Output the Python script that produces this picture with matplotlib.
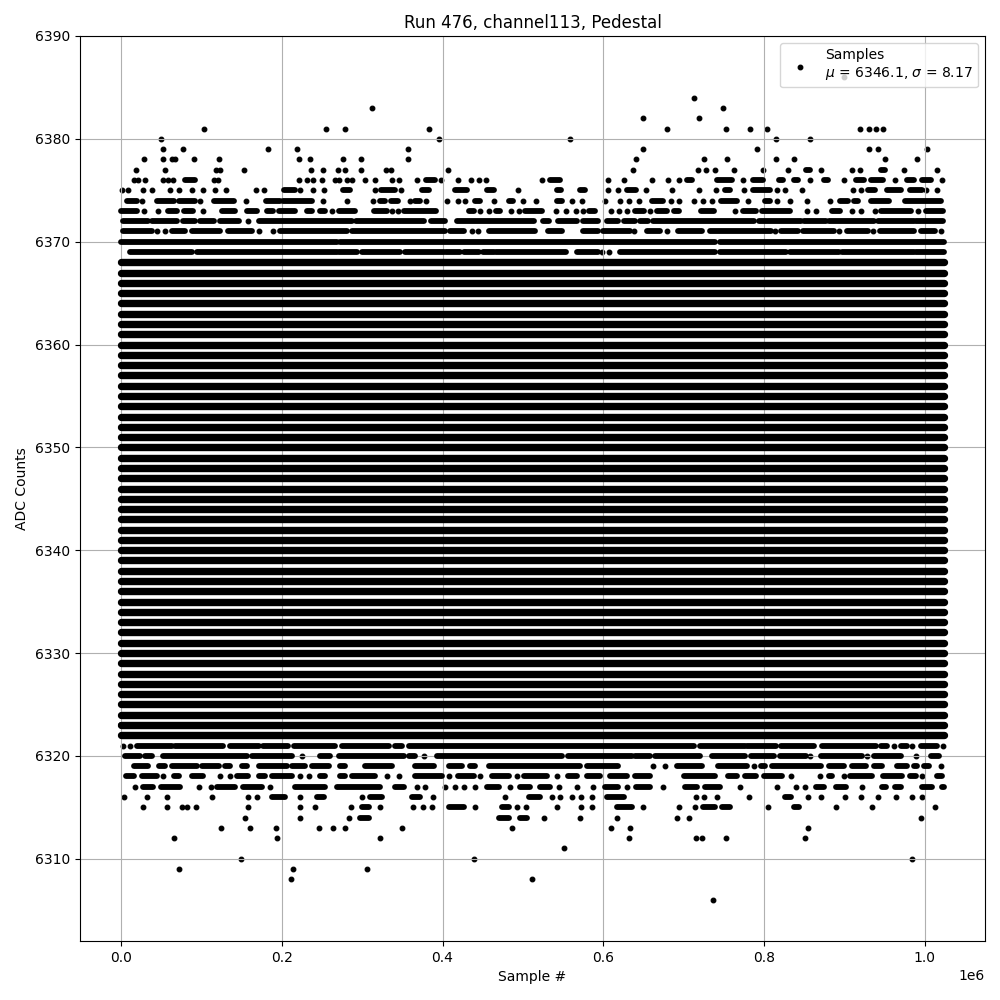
import matplotlib
matplotlib.use("Agg")
import matplotlib.pyplot as plt

# ---------------- data (x in thousands of samples, y in ADC counts) ----------------
title = "Run 476, channel113, Pedestal"
x_label = "Sample #"
y_label = "ADC Counts"
legend_label = "Samples\n$\\mu$ = 6346.1, $\\sigma$ = 8.17"
n_samples_k = 1024.0          # 1,024,000 samples
core_low, core_high = 6322, 6368   # every ADC code in this band is hit all along the run

# sparse rows: a number is one sample, a tuple is a run of neighbouring samples
lvl_6386 = [899.5]
lvl_6384 = [713.6]
lvl_6383 = [311.7, 749.7]
lvl_6382 = [650.1, 719.8]
lvl_6381 = [103.7, 254.4, 278.1, 382.7, 680, 753.4, 782.5, 803.7, 919.5, 930.7, 939.4, 948.1]
lvl_6380 = [49.8, 396, 559.2, 814.9, 857.2]
lvl_6379 = [52.7, 76.4, 183.4, 218.3, 356.5, 650.1, 791.2, 930.7, 941.9, 1002.9]
lvl_6378 = [29, 52.7, 63, 67.2, 91.3, 122.4, 220.8, 234.5, 275.6, 298, 356.5, 641.4, 726,
            754.7, 814.9, 837.3, 950.6, 990.4]
lvl_6377 = [19.1, 54, 117.9, 123.3, 152.3, 235.7, 250.7, 269.4, 278.1, 298, 329.1, 336.2,
            406.3, 637.7, 718.6, 727.7, 739.7, 762.6, 798.7, 830.2, (852.7, 857.2), 870.9,
            909.5, 919.5, (945.6, 950.6), 974.3, 1015.3]
lvl_6376 = [16.2, 21.2, 30.3, 52.7, 58.9, 64.3, (79.7, 92.1), 115, 120, 220.8, 231.2, 239.4,
            249.8, 266.5, 270.6, 281, 287.2, 303, 315.5, 337.4, 345.3, 368.2, (378.9, 391),
            397.6, 418.8, 435.8, 444.9, 454, 524.4, (533.9, 546.4), 606.5, 626.4, 661.3,
            681.2, 694.9, (704.9, 711.1), (742.2, 760.9), 773.4, (786.3, 798.7),
            (818.6, 823.6), (837.3, 842.3), 857.2, (874.6, 879.6), 899.5, (914.5, 924.5),
            (933.2, 948.1), 963, (978, 986.7), (996.7, 1007.9), 1021.6]
lvl_6375 = [0.8, 9.1, 26.6, 37.8, 61.4, 71.4, 88.8, 102.5, 117.4, 131.1, 168, 177.2,
            (203, 216.6), 222, 238.2, 252, (275.6, 284.3), 315.5, (323.7, 341.2), 347.8,
            (374.4, 382.7), (415.9, 430.4), (455.3, 463.6), 493.5, (542.2, 547.2),
            (571.3, 577.5), 606.5, 619, (629.4, 641), 653.8, 686.2, 719.8, 741, (751, 757.2),
            775.8, (786.3, 807.4), 816.1, 826.1, 847.3, 910.8, 920.7, (929.4, 938.1),
            (953.1, 970.5), (981.7, 996.7), 1001.6, 1015.3]
lvl_6374 = [(7, 20.3), 26.1, (44.4, 65.2), (71.4, 92.1), 98.4, (115, 140.7), 155.6,
            (180.5, 198), (202, 237.4), 251, 280.6, 313, (321.7, 328.7), (336.2, 344.1), 359,
            (366, 372.3), 378.9, 405, 418.8, 427.5, (440.8, 447), 463.6, (482.3, 487.3),
            499.7, 516, (542.2, 548.4), 560.9, 574.2, 602.4, 621.5, 632.7, 645.1,
            (661.3, 674.2), 685, 694.9, 712.4, 724.8, 734.8, (747.2, 767.1), 780,
            (801.2, 807.4), 816.1, 832.3, 853.5, 882.1, (894.6, 904.5), (912, 917),
            (933.2, 955.6), (975.5, 1020.3)]
lvl_6373 = [(0, 19.5), 29, 46.5, (58.9, 69.3), (78.4, 90), 102, (125.3, 141.9),
            (156.5, 168.9), (181.3, 189.6), (195.9, 216.6), (231.2, 237.4), (247.8, 254),
            262.3, (270.6, 291.4), (314.2, 330.8), 337, 344.1, (351.6, 392.2), (432.5, 438.7),
            446.2, 457.4, (466.5, 471.9), 485.2, 494.7, (502.2, 524.4), 541, 553.4, 566.7,
            575.4, (582.9, 590.3), 610.3, 620.2, 630.2, (640.1, 651.3), 658.4, (667.5, 680),
            (687.5, 694.9), (722.3, 737.3), 764.6, (773.4, 790), (797.5, 832.3), 853.5, 864.7,
            (884.6, 894.6), 909.5, 920.7, 938.1, (945.6, 983), 991.7, (1001.6, 1022.8)]
lvl_6372 = [(1.7, 34), (38.2, 69.3), (77.6, 92.1), (98.4, 115), (123.3, 146.1), 158.5,
            (171, 287.2), (292.6, 376.5), (386, 402.6), (418, 514.4), (525.6, 533),
            (544.3, 567.1), (575.4, 594.1), (604.5, 619), (626.4, 640.1), (646, 656.3),
            (662.6, 787.5), (793.7, 845.6), (849.8, 876.7), (880.9, 936.9), (941.9, 986.7),
            (988.8, 1022.9)]
lvl_6371 = [(1.7, 38.2), 45.2, 54, (63, 79.7), (88, 123.3), (133.6, 162.7), 171, 189.6,
            (198, 281), (287.2, 403.4), (409.7, 426.3), 436.6, 443.7, (457.4, 515),
            (531.8, 548.4), (575.4, 594.1), (600.3, 633.5), 638.9, (654.3, 670.9), 679.2,
            (693.7, 722.7), (733.1, 808.3), 813.6, (821.1, 842.3), (848.5, 887.1), 893.3,
            (903.3, 929.4), 935.7, (944.4, 986.7), (995.4, 1012.8), 1020.3]
lvl_6370 = [(0, 268.6), (271.9, 739.3), (745.6, 1024)]
lvl_6369 = [(11.2, 88), (94, 268.6), (270.6, 293.5), (299.7, 347.4), (353.6, 401.4),
            (404.7, 422), (426.2, 444.9), (451, 463.6), (466.5, 553.8), (567.1, 594.1),
            598.2, 607.8, (621, 739.3), (745.6, 826.9), (832.3, 893.3), (897.5, 986.7),
            (988.8, 1024)]

lvl_6323 = [(0, 200), (206.3, 380.6), (382.7, 648), (652.2, 858), (860.1, 945.2),
            (951.4, 986.7), (998.3, 1024)]
lvl_6321 = [2.9, 11.2, (19.5, 63.1), (67.2, 127.4), (134.9, 171), (176.4, 207.5),
            (214.6, 266.5), (274.8, 332.9), (341.2, 349.5), (357.8, 712.4), (720.7, 776.7),
            (779.2, 814.5), (820.7, 862.2), (872.6, 939), (945.2, 953.5), 961.8,
            (970.1, 978.4), 984.6, (995, 1015.7), 1023.5]
lvl_6320 = [(5, 23.7), (29.9, 38.2), (51.9, 156.5), (162.7, 212.5), 225, (247.8, 260.3),
            (270.6, 351.6), (357.8, 366.1), 376.5, (393, 548.4), (556.7, 635.6),
            (639.7, 658.4), (664.6, 720.7), (735.2, 777.1), (783.4, 812.4), (819.9, 851.8),
            858, (870.5, 922.4), 928.6, (936.9, 970.1), 988.8, (1007.5, 1017.8)]
lvl_6319 = [(15.4, 34), (47.7, 54.8), (63.1, 95), (100.4, 121.2), (129.5, 135.7),
            (150.2, 156.5), (172.2, 206.3), (212.5, 229.1), (237.4, 258.2), (272.7, 278.9),
            (303.8, 337), (366.1, 388.9), (407.6, 424.2), (434.6, 440.8), (457.4, 571.3),
            (579.6, 619), 662.6, 677.1, (691.6, 722.7), (743.5, 779.2), 787.5, (795.8, 802),
            (810.3, 870.5), (880.9, 899.5), (910, 926.5), (936.9, 947.3), (966, 978.4),
            (986.7, 990.9), (999.2, 1005.4), 1019.9]
lvl_6318 = [(6.2, 16.2), (25.7, 44.4), 52.7, (65.2, 71.4), (88, 102.5), 123.3, 134.9,
            (144, 158.5), (172.2, 179.3), (187.6, 212.5), 222, 234, (247.8, 254),
            (272.7, 278.9), (287.2, 316.3), 330.8, 346.2, (366.1, 399.3), 407.6,
            (418.8, 438.7), 447, (461.5, 482.3), 492.7, (501, 529.8), 542.2, (556.7, 567.1),
            (579.6, 596.2), (608.6, 629.4), (639.7, 658.4), (700.7, 739.3), (755.9, 766.3),
            (777.1, 789.6), (800, 822.8), 833.2, 869.7, (880.9, 885), 899.5, (907, 934.8),
            (948.5, 972.2), (981.7, 988.8), 997.1, (1015.7, 1022)]
lvl_6317 = [17.4, (27.8, 40.2), (49.4, 73.5), 97.5, 112, (119.9, 141.9), (151.5, 175.1),
            184.7, (216.6, 254), (268.6, 322.5), (341.2, 351.6), 368.2, 378.5, 402.6, 415,
            427.1, 440.8, (455.3, 469.8), 483.5, (496.8, 509.3), (521.5, 533.9), 545.5,
            567.1, 587.9, (602.4, 619), 629.4, (641, 658.4), 674.2, (702, 716.5),
            (726.9, 745.6), 770.5, 816.6, 839.4, 851, (864.3, 874.6), (889.2, 901.6), 922.4,
            (947.3, 951.4), (963, 970.1), (997.1, 1009.5), (1022, 1024)]
lvl_6316 = [4.1, 32.8, 56.9, 112.9, 158.5, 168.9, (187.6, 204.2), 222.8, (243.6, 252.8),
            299.3, (310, 324.6), (361.9, 372.3), 387.7, 477.3, (507.2, 521.5), 536, 546.8,
            561.7, 572.9, 586.6, (605.3, 626), 715.7, 726, 742.2, 781.3, (826.1, 833.2),
            854.7, 870.9, 900.8, 920.7, 941.9, 964.3, 984.2, 996.7]
lvl_6315 = [27.8, 56.9, 75.5, 81.8, 93.4, 158.5, 222.8, 241.5, 285.6, (299.3, 308), 321.7,
            362.8, 375.2, 386.4, (407.6, 426.3), 440, (474, 482.3), 492.7, 503.4, 543, 572.9,
            586.6, (617.7, 635.6), 650.1, 694.9, 714.8, (723.6, 739.3), (747.6, 758), 804.9,
            (837.3, 843.5), 889.6, 934.4, 1012.8]
lvl_6314 = [154.4, 222, 283.1, (297.6, 308), (469.8, 482.3), (496, 505.1), 526.8, 571.7,
            617.7, 692.4, 707.4, 995.4]
lvl_6313 = [124.5, 159.8, 193, 246.7, 263.2, 278.1, 349, 486.4, 610.3, 633.9, 854.7]
lvl_6312 = [66.4, 194.6, 321.7, 632.7, 715.3, 722.7, 753.4, 851]
lvl_6311 = [551.7]
lvl_6310 = [149.8, 438.7, 984.2]
lvl_6309 = [72.6, 213.7, 305.5]
lvl_6308 = [210.8, 510.9]
lvl_6306 = [736.5]

sparse_rows = {
    6386: lvl_6386, 6384: lvl_6384, 6383: lvl_6383, 6382: lvl_6382, 6381: lvl_6381,
    6380: lvl_6380, 6379: lvl_6379, 6378: lvl_6378, 6377: lvl_6377, 6376: lvl_6376,
    6375: lvl_6375, 6374: lvl_6374, 6373: lvl_6373, 6372: lvl_6372, 6371: lvl_6371,
    6370: lvl_6370, 6369: lvl_6369,
    6323: lvl_6323, 6321: lvl_6321, 6320: lvl_6320, 6319: lvl_6319, 6318: lvl_6318,
    6317: lvl_6317, 6316: lvl_6316, 6315: lvl_6315, 6314: lvl_6314, 6313: lvl_6313,
    6312: lvl_6312, 6311: lvl_6311, 6310: lvl_6310, 6309: lvl_6309, 6308: lvl_6308,
    6306: lvl_6306,
}

# ---------------- split into single samples and runs ----------------
K = 1000.0
pt_x, pt_y = [], []
run_y, run_x0, run_x1 = [], [], []
for level, items in sparse_rows.items():
    for it in items:
        if isinstance(it, tuple):
            run_y.append(level)
            run_x0.append(it[0] * K)
            run_x1.append(it[1] * K)
        else:
            pt_x.append(it * K)
            pt_y.append(level)

core_y = list(range(core_low, core_high + 1))

# ---------------- plot ----------------
fig = plt.figure(figsize=(10, 10), dpi=100)
ax = fig.add_subplot(111)
fig.subplots_adjust(left=0.08, right=0.985, top=0.964, bottom=0.059)

ax.hlines(core_y, 0, (n_samples_k - 0.001) * K, colors="k", linewidth=5.3,
          capstyle="round")
ax.hlines(run_y, run_x0, run_x1, colors="k", linewidth=4.2, capstyle="round")
ax.scatter(pt_x, pt_y, marker="o", s=11, linewidths=0.9, c="k", edgecolors="k",
           label=legend_label)

ax.set_title(title)
ax.set_xlabel(x_label)
ax.set_ylabel(y_label)
ax.grid(True)
ax.legend(loc="upper right")

fig.savefig("out.png", dpi=100)
